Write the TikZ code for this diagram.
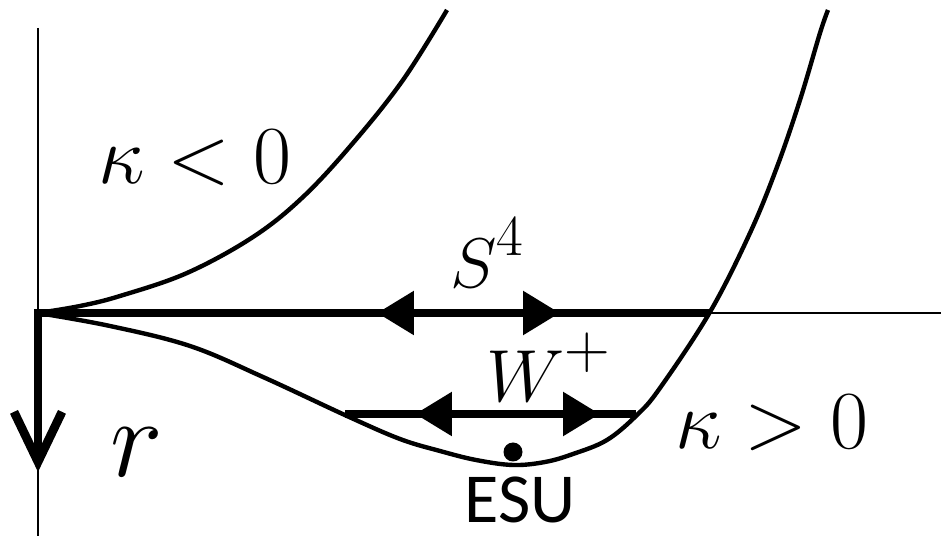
\RequirePackage{fix-cm}
\documentclass[tikz,border=0pt]{standalone}
\usepackage{fontspec}
\newfontfamily\esufont{Carlito}
\usepackage{tikz}
\usetikzlibrary{arrows.meta}

\begin{document}
\begin{tikzpicture}[x=0.02cm, y=-0.02cm,
    axis/.style={line width=1.2pt},
    curve/.style={line width=2.5pt},
    flow/.style={line width=5pt},
    head/.style={line width=5pt, -{Triangle[length=0.74cm 0, width=0.84cm 0]}},
    big/.style={inner sep=0pt, font=\fontsize{#1}{#1}\selectfont}]
  \useasboundingbox (0,0) rectangle (941,536);
  % axes
  \coordinate (O) at (38,313);
  \coordinate (top) at (38,28);
  \coordinate (bot) at (38,536);
  \coordinate (far) at (941,313);
  \draw[axis] (top) -- (bot);
  \draw[axis] (O) -- (far);
  % the two curves
  \draw[curve] plot[smooth, tension=0.6] coordinates {(38,313) (80,306) (120,296)
      (187,273) (253,237) (303,197) (353,143) (403,80) (447,10)};
  \draw[curve] plot[smooth, tension=0.6] coordinates {(38,313) (110,326) (190,346)
      (263,377) (347,416) (400,439) (440,451) (476,460) (513,465) (545,462)
      (573,454) (607,440) (637,415) (660,388) (710,312) (750,233) (777,167)
      (800,100) (820,33) (828,10)};
  % flow lines
  \coordinate (S) at (710,313);
  \coordinate (rtip) at (38,472);
  \draw[flow, line join=miter, -{Straight Barb[length=1cm 0, width=0.96cm 0]}]
      (S) -- (O) -- (rtip);
  \coordinate (smid) at (469,313);
  \coordinate (sl) at (377,313);
  \coordinate (sr) at (560,313);
  \draw[head] (smid) -- (sl);
  \draw[head] (smid) -- (sr);
  \coordinate (wl) at (345,414);
  \coordinate (wr) at (636,414);
  \coordinate (wmid) at (508,414);
  \draw[flow] (wl) -- (wr);
  \draw[head] (wmid) -- (415,414);
  \draw[head] (wmid) -- (600,414);
  % fixed point
  \node[circle, fill, inner sep=0pt, minimum size=0.38cm] (esu) at (513,452) {};
  \node[inner sep=0pt, font=\esufont\fontsize{40}{44}\selectfont] (esulab) at (520,500) {ESU};
  % labels
  \node[big=47] (kneg) at (195,158) {$\kappa < 0$};
  \node[big=47] (kpos) at (772,423) {$\kappa > 0$};
  \node[big=64] (r) at (137,452) {$r$};
  \node[big=40, anchor=base west] (s4) at (450,288)
      {$S^{\raisebox{4pt}{\fontsize{33}{33}\selectfont 4}}$};
  \node[big=42, anchor=base west] (wp) at (486,402)
      {$W^{\raisebox{4pt}{\fontsize{36}{36}\selectfont +}}$};
\end{tikzpicture}
\end{document}
